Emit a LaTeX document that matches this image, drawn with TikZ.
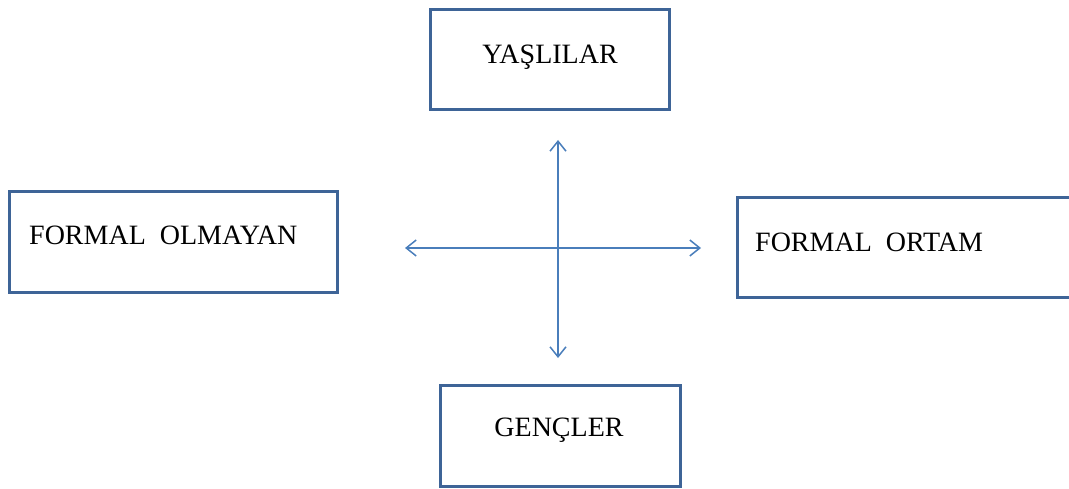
\documentclass[tikz,border=0pt]{standalone}
\usepackage{fontspec}
\setmainfont{Liberation Serif}
\usetikzlibrary{arrows.meta}
\definecolor{boxblue}{HTML}{3E6497}
\definecolor{arrowblue}{HTML}{4A7EBB}
\begin{document}
\begin{tikzpicture}[x=1pt,y=-1pt,
  catbox/.style={draw=boxblue,line width=3pt,fill=white},
  lbl/.style={font=\fontsize{28}{32}\selectfont,text=black,inner sep=0pt},
  link/.style={draw=arrowblue,line width=1.5pt,{Straight Barb[length=10pt,width=16pt,line width=1.5pt]}-{Straight Barb[length=10pt,width=16pt,line width=1.5pt]}}]
\useasboundingbox (0,0) rectangle (1069,489);
\draw[catbox] (430,10) rectangle (669,110);
\draw[catbox] (9,192) rectangle (337,293);
\draw[catbox] (737,198) rectangle (1080,298);
\draw[catbox] (440,385) rectangle (680,486);
\node[lbl] (yas) at (550,57) {YAŞLILAR};
\node[lbl,anchor=west] (fo) at (29,235) {FORMAL\ \ OLMAYAN};
\node[lbl,anchor=west] (for) at (755,242) {FORMAL\ \ ORTAM};
\node[lbl] (gen) at (559,430) {GENÇLER};
\coordinate (top) at (558,140);
\coordinate (bot) at (558,358);
\coordinate (lft) at (405,248);
\coordinate (rgt) at (701,248);
\draw[link] (top) -- (bot);
\draw[link] (lft) -- (rgt);
\end{tikzpicture}
\end{document}
